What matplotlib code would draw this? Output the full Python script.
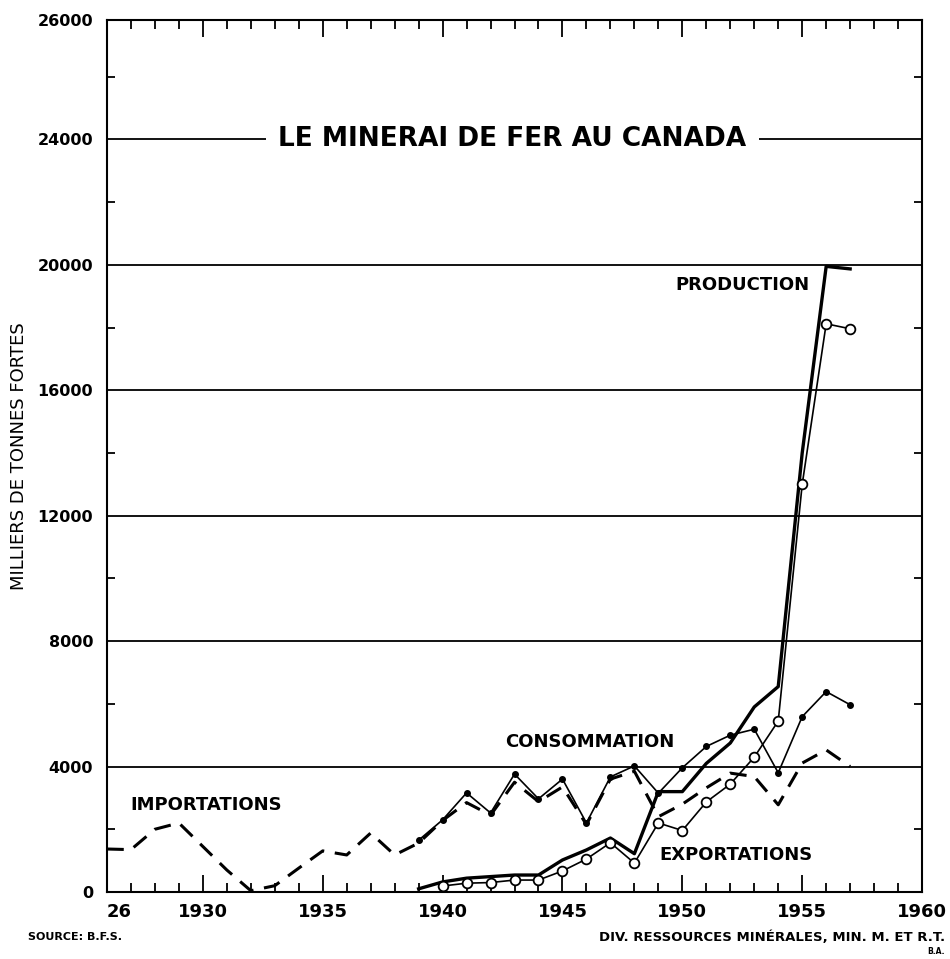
import matplotlib
matplotlib.use('Agg')
import matplotlib.pyplot as plt

# Iron ore in Canada, thousands of long tons
years_imp = list(range(1926, 1958))
importations = [1370, 1350, 2000, 2200, 1450, 700, 40, 200, 760, 1310,
                1180, 1880, 1180, 1560, 2280, 2850, 2450, 3500, 2880, 3350,
                2150, 3600, 3850, 2400, 2800, 3320, 3790, 3680, 2780, 4110,
                4530, 4000]

years_cons = list(range(1939, 1958))
consommation = [1650, 2300, 3160, 2520, 3760, 2970, 3600, 2200, 3670, 4020,
                3150, 3960, 4640, 5000, 5190, 3800, 5590, 6390, 5970]

years_prod = list(range(1939, 1958))
production = [100, 320, 440, 490, 540, 540, 1020, 1340, 1720, 1220,
              3200, 3200, 4100, 4750, 5900, 6550, 14000, 19950, 19870]

years_exp = list(range(1940, 1958))
exportations = [190, 280, 300, 380, 380, 670, 1050, 1570, 920, 2200,
                1960, 2870, 3440, 4300, 5450, 13000, 18120, 17960]

x_ticks = [1926, 1930, 1935, 1940, 1945, 1950, 1955, 1960]
x_labels = ['26', '1930', '1935', '1940', '1945', '1950', '1955', '1960']
y_ticks = [0, 4000, 8000, 12000, 16000, 20000, 24000, 27800]
y_labels = ['0', '4000', '8000', '12000', '16000', '20000', '24000', '26000']
grid_levels = [4000, 8000, 12000, 16000, 20000, 24000]

fig = plt.figure(figsize=(9.5, 9.59), dpi=100)
ax = fig.add_axes([0.1126, 0.0699, 0.858, 0.909])

for lvl in grid_levels:
    ax.axhline(lvl, color='black', lw=1.3, zorder=1)

ax.plot(years_imp, importations, color='black', lw=2.2, ls=(0, (5.5, 3.5)), zorder=3)
ax.plot(years_cons, consommation, color='black', lw=1.2, marker='o', ms=4,
        mfc='black', zorder=4)
ax.plot(years_prod, production, color='black', lw=2.4, zorder=4)
ax.plot(years_exp, exportations, color='black', lw=1.2, marker='o', ms=7,
        mfc='white', mec='black', mew=1.3, zorder=5)

ax.set_xlim(1926, 1960)
ax.set_ylim(0, 27800)

ax.set_xticks(x_ticks)
ax.set_xticklabels(x_labels)
ax.set_xticks(range(1926, 1961), minor=True)
ax.set_yticks(y_ticks)
ax.set_yticklabels(y_labels)
ax.set_yticks(range(2000, 27000, 4000), minor=True)
ax.get_xticklabels()[0].set_ha('left')

ax.tick_params(axis='x', which='major', direction='in', top=True, length=12,
               width=1.3, pad=8, labelsize=13)
ax.tick_params(axis='x', which='minor', direction='in', top=True, length=6.5,
               width=1.3)
ax.tick_params(axis='y', which='major', direction='in', right=True, length=0,
               pad=10, labelsize=11.5)
ax.tick_params(axis='y', which='minor', direction='in', right=True, length=6,
               width=1.3)
for lab in ax.get_xticklabels() + ax.get_yticklabels():
    lab.set_fontweight('bold')

for sp in ax.spines.values():
    sp.set_linewidth(1.5)

ax.set_ylabel('MILLIERS DE TONNES FORTES', fontsize=13, labelpad=7)

ax.text(0.497, 24000, 'LE MINERAI DE FER AU CANADA', transform=ax.get_yaxis_transform(),
        ha='center', va='center', fontsize=19, fontweight='bold', zorder=6,
        bbox=dict(facecolor='white', edgecolor='none', pad=9))

label_kw = dict(fontsize=13, fontweight='bold', zorder=6)
ax.text(1955.3, 19360, 'PRODUCTION', ha='right', va='center', **label_kw)
ax.text(1942.6, 4785, 'CONSOMMATION', ha='left', va='center', **label_kw)
ax.text(1926.96, 2775, 'IMPORTATIONS', ha='left', va='center', **label_kw)
ax.text(1949.04, 1180, 'EXPORTATIONS', ha='left', va='center', **label_kw)

fig.text(28 / 950, 1 - 937 / 959, 'SOURCE: B.F.S.', fontsize=8, fontweight='bold',
         ha='left', va='center')
fig.text(945 / 950, 1 - 937 / 959, 'DIV. RESSOURCES MINÉRALES, MIN. M. ET R.T.',
         fontsize=9.5, fontweight='bold', ha='right', va='center')
fig.text(945 / 950, 1 - 951 / 959, 'B.A.', fontsize=5.5, fontweight='bold',
         ha='right', va='center')

fig.savefig('out.png', dpi=100, facecolor='white')
